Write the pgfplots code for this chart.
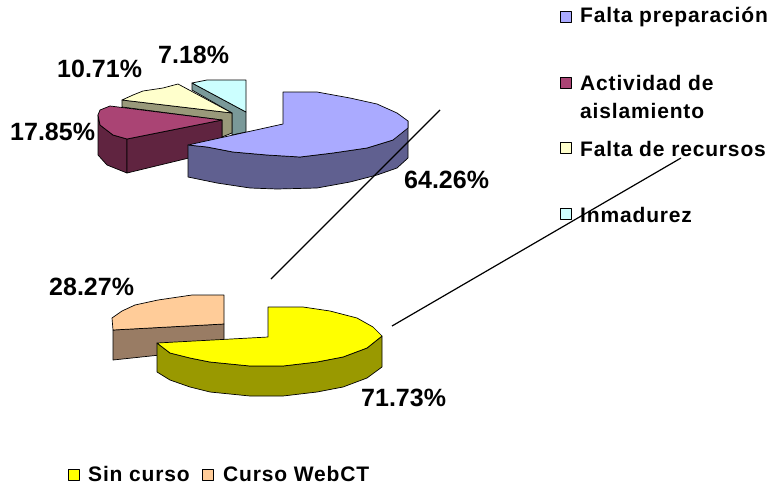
\documentclass[border=0pt]{standalone}
\usepackage{pgfplots}
\pgfplotsset{compat=1.18}
\usepackage{fontspec}
\setmainfont{Liberation Sans}
\newfontfamily\legfont[LetterSpace=4,BoldFont={Liberation Sans Bold}]{Liberation Sans}
\tikzset{
  lab/.style={font=\fontsize{25}{25}\selectfont\bfseries,text=black,inner sep=0pt,anchor=west},
  leg/.style={font=\legfont\fontsize{21}{21}\selectfont\bfseries,text=black,inner sep=0pt,anchor=west}}
\begin{document}
\begin{tikzpicture}
\useasboundingbox (0,0) rectangle (770pt,485pt);
\begin{axis}[at={(0,0)},anchor=south west,scale only axis,width=770pt,height=485pt,
  xmin=0,xmax=770,ymin=0,ymax=485,y dir=reverse,axis lines=none,clip=false,
  every axis plot/.append style={no markers,line width=0.7pt,draw=black,solid,line join=round}]
% Inmadurez
\addplot[fill={rgb,255:red,122;green,153;blue,153}] coordinates {(192,83)(246,112)(246,132)(232,135)(232,113)(192,90)} --cycle;
\addplot[fill={rgb,255:red,204;green,255;blue,255}] coordinates {(246,112)(246,80)(207,80)(192,83)} --cycle;
% Falta de recursos
\addplot[fill={rgb,255:red,153;green,153;blue,122}] coordinates {(122,100)(232,113)(232,133)(222,137)(222,120)(122,107)} --cycle;
\addplot[fill={rgb,255:red,255;green,255;blue,204}] coordinates {(232,113)(122,100)(133,95)(143,91)(163,88)(178,84)} --cycle;
% Actividad de aislamiento
\addplot[fill={rgb,255:red,96;green,36;blue,64}] coordinates {(98,115)(100,125)(113,135)(127,139)(127,173)(107,165)(98,155)} --cycle;
\addplot[fill={rgb,255:red,96;green,36;blue,64}] coordinates {(127,139)(222,120)(222,150)(127,173)} --cycle;
\addplot[fill={rgb,255:red,170;green,68;blue,116}] coordinates {(222,120)(127,139)(113,135)(100,125)(98,115)(100,110)(110,106)} --cycle;
% Falta preparacion
\addplot[fill={rgb,255:red,96;green,96;blue,144}] coordinates {(188,145)(188,177)(217,183)(250,188)(277,189)(317,188)(350,182)(377,175)(397,168)(408,158)(408,121)(393,140)(367,148)(333,153)(300,157)(267,155)(233,152)(207,147)} --cycle;
\addplot[fill={rgb,255:red,170;green,170;blue,255}] coordinates {(283,124)(283,92)(317,92)(350,98)(377,104)(397,113)(408,121)(408,128)(393,140)(367,148)(333,153)(300,157)(267,155)(233,152)(207,147)(188,145)} --cycle;
% Curso WebCT
\addplot[fill={rgb,255:red,153;green,124;blue,100}] coordinates {(113,330)(224,324)(224,340)(160,355)(113,360)} --cycle;
\addplot[fill={rgb,255:red,255;green,204;blue,153}] coordinates {(224,324)(224,295)(192,295)(158,300)(135,305)(122,311)(112,318)(113,330)} --cycle;
% Sin curso
\addplot[fill={rgb,255:red,153;green,153;blue,0}] coordinates {(157,343)(157,372)(170,380)(190,387)(210,392)(250,396)(283,396)(317,392)(343,387)(367,378)(382,367)(382,336)(367,348)(343,357)(317,362)(283,366)(250,366)(210,362)(190,358)(170,353)} --cycle;
\addplot[fill={rgb,255:red,255;green,255;blue,0}] coordinates {(268,337)(268,307)(303,307)(330,311)(357,318)(373,327)(382,336)(367,348)(343,357)(317,362)(283,366)(250,366)(210,362)(190,358)(170,353)(157,343)} --cycle;
% connector lines
\addplot[line width=1.2pt] coordinates {(440,110)(271,279)};
\addplot[line width=1.2pt] coordinates {(681,158)(392,326)};
% legend keys
\addplot[fill={rgb,255:red,170;green,170;blue,255}] coordinates {(560,11)(571,11)(571,22)(560,22)} --cycle;
\addplot[fill={rgb,255:red,170;green,68;blue,116}] coordinates {(560,77)(571,77)(571,88)(560,88)} --cycle;
\addplot[fill={rgb,255:red,255;green,255;blue,204}] coordinates {(560,142)(571,142)(571,153)(560,153)} --cycle;
\addplot[fill={rgb,255:red,204;green,255;blue,255}] coordinates {(560,208)(571,208)(571,219)(560,219)} --cycle;
\addplot[fill={rgb,255:red,255;green,255;blue,0}] coordinates {(68,469)(79,469)(79,480)(68,480)} --cycle;
\addplot[fill={rgb,255:red,255;green,204;blue,153}] coordinates {(202,469)(213,469)(213,480)(202,480)} --cycle;
% labels
\node[lab] at (axis cs:158,55) {7.18\%};
\node[lab] at (axis cs:57,69) {10.71\%};
\node[lab] at (axis cs:10,132) {17.85\%};
\node[lab] at (axis cs:404,180) {64.26\%};
\node[lab] at (axis cs:49,287) {28.27\%};
\node[lab] at (axis cs:361,398) {71.73\%};
\node[leg] at (axis cs:580,17) {Falta preparación};
\node[leg] at (axis cs:580,83) {Actividad de};
\node[leg] at (axis cs:580,111) {aislamiento};
\node[leg] at (axis cs:580,149) {Falta de recursos};
\node[leg] at (axis cs:580,215) {Inmadurez};
\node[leg] at (axis cs:88,474) {Sin curso};
\node[leg] at (axis cs:223,474) {Curso WebCT};
\end{axis}
\end{tikzpicture}
\end{document}
